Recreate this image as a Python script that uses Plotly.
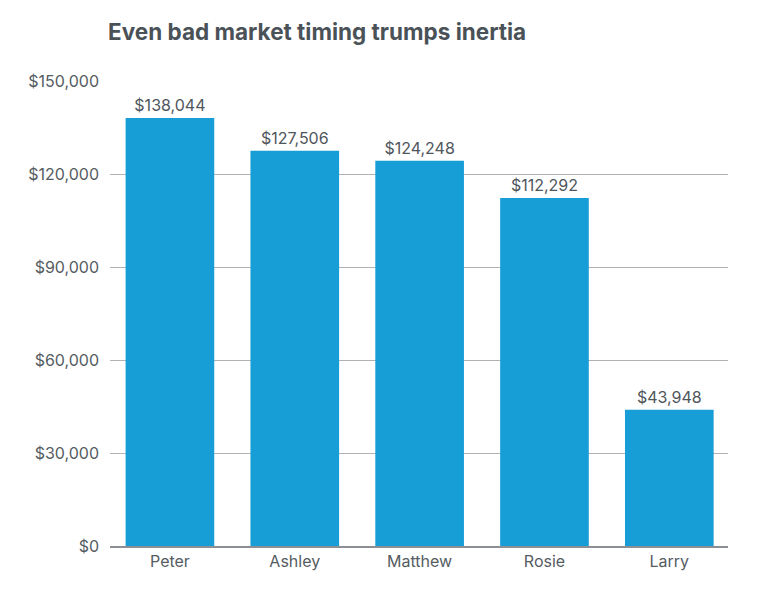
import plotly.graph_objects as go

names = ["Peter", "Ashley", "Matthew", "Rosie", "Larry"]
amounts = [138044, 127506, 124248, 112292, 43948]
tick_vals = [0, 30000, 60000, 90000, 120000, 150000]
tick_text = ["$0", "$30,000", "$60,000", "$90,000", "$120,000", "$150,000"]

fig = go.Figure(
    go.Bar(
        x=names,
        y=amounts,
        marker=dict(color="#189ed7", line=dict(width=0)),
        text=[f"${v:,}" for v in amounts],
        textposition="outside",
        textfont=dict(size=16, color="#4f565c"),
        cliponaxis=False,
    )
)

# page sits 8px in from the window edge, so margins are shifted by that
fig.update_layout(
    width=772,
    height=600,
    title=dict(
        text="<b>Even bad market timing trumps inertia</b>",
        x=100 / 772,
        xanchor="left",
        y=1 - 24 / 600,
        yanchor="middle",
        font=dict(family="Inter, Open Sans, sans-serif", size=22.5, color="#4a5258"),
    ),
    font=dict(family="Inter, Open Sans, sans-serif", size=15, color="#555c62"),
    margin=dict(l=102, r=52, t=73, b=62),
    plot_bgcolor="white",
    paper_bgcolor="white",
    bargap=0.29,
    showlegend=False,
)

fig.update_xaxes(
    range=[-0.48, 4.47],
    showgrid=False,
    showline=True,
    linecolor="#8c9094",
    linewidth=1.5,
    ticks="",
    tickfont=dict(size=16),
)

fig.update_yaxes(
    range=[0, 150000],
    tickvals=tick_vals,
    ticktext=tick_text,
    showgrid=True,
    gridcolor="#b0b3b6",
    gridwidth=1,
    zeroline=False,
    ticks="",
    ticklabelstandoff=10,
    tickfont=dict(size=16),
)

fig.write_html("out.html")
